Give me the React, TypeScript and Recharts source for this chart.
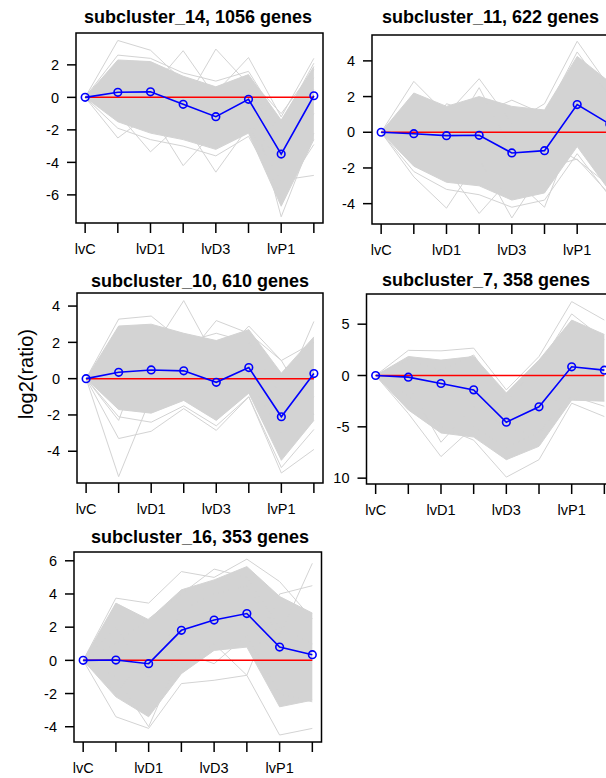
import { ComposedChart, Line, Area, XAxis, YAxis, ReferenceArea } from "recharts";

// x positions (8 time points), only every other one is labelled
const X_POS = [0, 1, 2, 3, 4, 5, 6, 7];
const TICK_LABELS = ["lvC", "", "lvD1", "", "lvD3", "", "lvP1", ""];
const X_DOMAIN: [number, number] = [-0.28, 7.28];

// subcluster_14
const SC14_MEAN = [0, 0.31, 0.34, -0.43, -1.19, -0.12, -3.49, 0.1];
const SC14_LOW = [0, -1.5, -2.2, -2.6, -3.2, -2.2, -6.7, -2.6];
const SC14_HIGH = [0, 2.3, 2.2, 1.3, 0.65, 1.4, -1.4, 1.9];
const SC14_GENES = [
  [0, 3.5, 2.9, 1.0, 0.2, 0.5, -2.0, 0.5],
  [0, 0.8, 0.5, 2.87, 0.0, 0.6, -2.5, 0.0],
  [0, 0.4, 0.2, -0.5, 2.97, 0.8, -1.5, 1.2],
  [0, 1.0, 0.5, -1.0, 0.3, 2.45, -1.2, 2.4],
  [0, -2.5, -1.0, -4.2, -2.0, -1.5, -4.0, -1.0],
  [0, -1.0, -3.35, -1.5, -4.6, -1.8, -5.1, -4.8],
  [0, 0.5, 0.0, -0.8, -1.5, 0.2, -7.35, -2.2],
  [0, 1.8, 1.9, 0.3, -0.5, 1.2, -1.0, 1.7],
  [0, -1.9, -2.6, -3.0, -3.6, -2.4, -6.0, -2.9],
  [0, 2.6, 2.4, 1.5, 1.0, 1.6, -1.6, 2.1],
];

// subcluster_11
const SC11_MEAN = [0, -0.08, -0.19, -0.17, -1.16, -1.03, 1.55, 0.45];
const SC11_LOW = [0, -1.9, -2.8, -3.0, -3.8, -3.4, -0.8, -3.3];
const SC11_HIGH = [0, 2.2, 1.45, 2.0, 1.45, 1.25, 4.25, 2.8];
const SC11_GENES = [
  [0, 2.85, 1.0, 3.0, 0.5, 1.6, 5.1, 2.5],
  [0, -2.5, -4.25, -1.5, -4.8, -2.0, -1.5, -3.5],
  [0, 1.0, -2.0, -4.55, -2.5, -4.2, 0.5, 1.0],
  [0, -1.5, 1.6, 1.0, 1.8, 1.0, 4.5, 2.0],
  [0, 2.0, -0.5, 2.5, -1.0, -0.5, -1.55, -3.0],
  [0, -2.2, -3.2, -3.5, -4.2, -3.8, -1.2, -3.6],
];

// subcluster_10
const SC10_MEAN = [0, 0.35, 0.48, 0.43, -0.2, 0.61, -2.1, 0.28];
const SC10_LOW = [0, -1.7, -1.9, -1.2, -2.3, -0.8, -4.5, -2.3];
const SC10_HIGH = [0, 2.9, 3.0, 2.5, 2.1, 2.7, 0.3, 2.3];
const SC10_GENES = [
  [0, -5.4, -1.0, 0.5, -0.5, 0.0, -3.0, -1.0],
  [0, 3.28, 3.45, 2.0, 2.5, 2.0, -1.0, 3.15],
  [0, 2.0, 1.5, 4.3, 1.0, 2.9, 1.0, 2.0],
  [0, -3.3, -2.9, -1.65, -2.85, -1.0, -5.2, -3.9],
  [0, -2.3, 2.5, 1.0, 3.2, 2.5, 1.0, -2.0],
  [0, -2.1, -2.4, -1.5, -2.6, -1.0, -4.9, -2.8],
];

// subcluster_7
const SC7_MEAN = [0, -0.16, -0.78, -1.4, -4.55, -3.05, 0.85, 0.52];
const SC7_LOW = [0, -3.35, -5.6, -6.0, -8.2, -6.9, -2.4, -2.5];
const SC7_HIGH = [0, 1.85, 1.5, 1.85, -1.7, 1.5, 5.4, 4.0];
const SC7_GENES = [
  [0, 2.45, 2.4, 2.67, -1.4, 1.85, 7.2, 5.4],
  [0, -3.7, -7.9, -5.0, -7.0, -5.5, -2.0, -3.0],
  [0, -2.0, -5.0, -6.3, -9.9, -8.2, -2.7, -4.0],
  [0, 1.5, 0.5, 2.0, -2.5, 1.0, 6.0, 3.5],
  [0, -1.0, -6.5, -3.0, -5.0, -6.0, 1.0, 0.0],
];

// subcluster_16
const SC16_MEAN = [0, 0.02, -0.2, 1.81, 2.43, 2.82, 0.8, 0.34];
const SC16_LOW = [0, -2.2, -3.4, -0.8, 0.6, 0.8, -2.8, -2.4];
const SC16_HIGH = [0, 3.45, 2.45, 4.25, 4.85, 5.65, 3.85, 2.85];
const SC16_GENES = [
  [0, 3.75, 3.45, 5.35, 5.0, 6.1, 4.75, 2.5],
  [0, -3.4, -4.1, -1.4, -1.2, -0.9, -4.5, -4.1],
  [0, 2.0, -1.0, 3.0, 4.0, 4.5, 1.5, 5.85],
  [0, -2.0, 0.5, -0.5, 1.0, -0.9, 4.0, 4.5],
  [0, 1.0, 2.5, 4.0, 5.5, 5.0, 2.0, 1.0],
  [0, -1.0, -4.0, 0.5, -0.2, 1.5, -2.0, -2.5],
];

const FONT = "'Liberation Sans', Arial, Helvetica, sans-serif";
const GRAY = "#d3d3d3";

interface PanelDef {
  title: string;
  mean: number[];
  low: number[];
  high: number[];
  genes: number[][];
  yDomain: [number, number];
  yTicks: number[];
  plot: { left: number; top: number; width: number; height: number };
  figLeft: number;
  titleX: number;
  titleY: number;
}

const PANELS: PanelDef[] = [
  {
    title: "subcluster_14, 1056 genes",
    mean: SC14_MEAN, low: SC14_LOW, high: SC14_HIGH, genes: SC14_GENES,
    yDomain: [-7.73, 3.96], yTicks: [-6, -4, -2, 0, 2],
    plot: { left: 76, top: 33, width: 247, height: 190 },
    figLeft: 6, titleX: 198, titleY: 22.5,
  },
  {
    title: "subcluster_11, 622 genes",
    mean: SC11_MEAN, low: SC11_LOW, high: SC11_HIGH, genes: SC11_GENES,
    yDomain: [-5.14, 5.45], yTicks: [-4, -2, 0, 2, 4],
    plot: { left: 372, top: 35, width: 247, height: 189 },
    figLeft: 332, titleX: 490.5, titleY: 23,
  },
  {
    title: "subcluster_10, 610 genes",
    mean: SC10_MEAN, low: SC10_LOW, high: SC10_HIGH, genes: SC10_GENES,
    yDomain: [-5.75, 4.72], yTicks: [-4, -2, 0, 2, 4],
    plot: { left: 77, top: 293, width: 246, height: 190 },
    figLeft: 36, titleX: 200, titleY: 287,
  },
  {
    title: "subcluster_7, 358 genes",
    mean: SC7_MEAN, low: SC7_LOW, high: SC7_HIGH, genes: SC7_GENES,
    yDomain: [-10.57, 7.94], yTicks: [-10, -5, 0, 5],
    plot: { left: 366.5, top: 294, width: 247, height: 190 },
    figLeft: 333, titleX: 486, titleY: 286,
  },
  {
    title: "subcluster_16, 353 genes",
    mean: SC16_MEAN, low: SC16_LOW, high: SC16_HIGH, genes: SC16_GENES,
    yDomain: [-4.92, 6.53], yTicks: [-4, -2, 0, 2, 4, 6],
    plot: { left: 74, top: 552, width: 247.5, height: 190 },
    figLeft: 6, titleX: 200, titleY: 542.5,
  },
];

const tickStyle = { fill: "#000", fontSize: 14.5, fontFamily: FONT };

function Panel({ p }: { p: PanelDef }) {
  const rows = X_POS.map((x, i) => {
    const row: Record<string, any> = { x, band: [p.low[i], p.high[i]], mean: p.mean[i] };
    p.genes.forEach((g, j) => {
      row[`g${j}`] = g[i];
    });
    return row;
  });
  const topPad = 6;
  const rightPad = 12;
  const xAxisH = 44;
  const yAxisW = p.plot.left - p.figLeft;
  const width = yAxisW + p.plot.width + rightPad;
  const height = topPad + p.plot.height + xAxisH;

  return (
    <div
      style={{
        position: "absolute",
        left: p.figLeft,
        top: p.plot.top - topPad,
        width,
        height,
        overflow: "hidden",
      }}
    >
      <ComposedChart
        width={width}
        height={height}
        data={rows}
        margin={{ top: topPad, right: rightPad, bottom: 0, left: 0 }}
      >
        <XAxis
          dataKey="x"
          type="number"
          domain={X_DOMAIN}
          allowDataOverflow
          ticks={X_POS}
          interval={0}
          tickFormatter={(v: number) => TICK_LABELS[v] ?? ""}
          axisLine={false}
          tickLine={{ stroke: "#000", strokeWidth: 1.5 }}
          tickSize={10}
          tickMargin={11}
          tick={tickStyle}
          height={xAxisH}
        />
        <YAxis
          type="number"
          domain={p.yDomain}
          allowDataOverflow
          ticks={p.yTicks}
          interval={0}
          axisLine={false}
          tickLine={{ stroke: "#000", strokeWidth: 1.5 }}
          tickSize={9}
          tickMargin={8}
          tick={tickStyle}
          width={yAxisW}
        />
        <Area
          dataKey="band"
          type="linear"
          stroke={GRAY}
          strokeWidth={1}
          fill={GRAY}
          fillOpacity={1}
          isAnimationActive={false}
          activeDot={false}
        />
        {p.genes.map((_, j) => (
          <Line
            key={j}
            dataKey={`g${j}`}
            type="linear"
            stroke={GRAY}
            strokeWidth={1}
            dot={false}
            activeDot={false}
            isAnimationActive={false}
          />
        ))}
        <Line
          dataKey={() => 0}
          type="linear"
          stroke="#ff0000"
          strokeWidth={1.5}
          dot={false}
          activeDot={false}
          isAnimationActive={false}
        />
        <Line
          dataKey="mean"
          type="linear"
          stroke="#0000ff"
          strokeWidth={1.6}
          dot={{ r: 3.8, fill: "none", stroke: "#0000ff", strokeWidth: 1.6 }}
          activeDot={false}
          isAnimationActive={false}
        />
        <ReferenceArea
          x1={X_DOMAIN[0]}
          x2={X_DOMAIN[1]}
          y1={p.yDomain[0]}
          y2={p.yDomain[1]}
          fill="none"
          fillOpacity={0}
          stroke="#000"
          strokeWidth={1.5}
          ifOverflow="visible"
        />
      </ComposedChart>
    </div>
  );
}

export default function App() {
  return (
    <div
      style={{
        position: "absolute",
        left: 0,
        top: 0,
        width: 606,
        height: 778,
        overflow: "hidden",
        background: "#fff",
      }}
    >
      {PANELS.map((p) => (
        <Panel key={p.title} p={p} />
      ))}
      <svg
        width={606}
        height={778}
        style={{ position: "absolute", left: 0, top: 0, pointerEvents: "none" }}
      >
        {PANELS.map((p) => (
          <text
            key={p.title}
            x={p.titleX}
            y={p.titleY}
            textAnchor="middle"
            fontFamily={FONT}
            fontSize={18}
            fontWeight="bold"
            fill="#000"
          >
            {p.title}
          </text>
        ))}
        <text
          x={33}
          y={374}
          transform="rotate(-90 33 374)"
          textAnchor="middle"
          fontFamily={FONT}
          fontSize={20}
          fill="#000"
        >
          log2(ratio)
        </text>
      </svg>
    </div>
  );
}
